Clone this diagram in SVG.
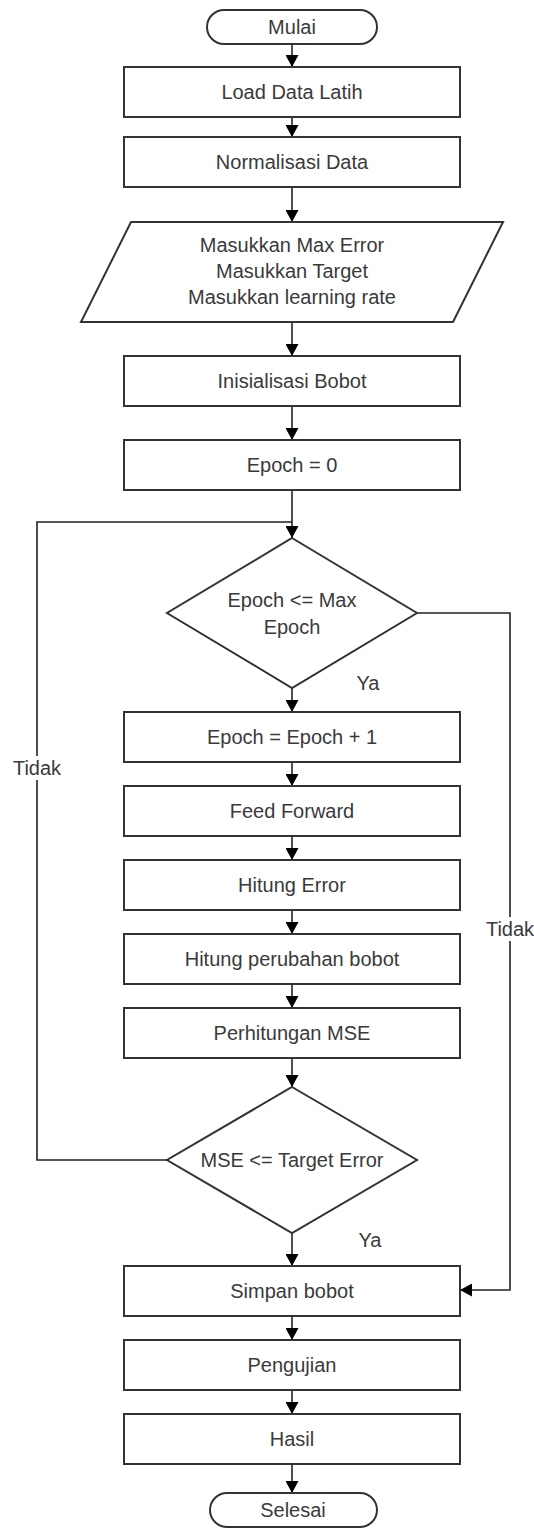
<svg xmlns="http://www.w3.org/2000/svg" width="534" height="1530" viewBox="0 0 534 1530">
<defs>
<marker id="ah" markerUnits="userSpaceOnUse" markerWidth="12" markerHeight="13" viewBox="0 0 12 13" refX="12" refY="6.5" orient="auto">
<path d="M0,0 L12,6.5 L0,13 Z" fill="#000"/>
</marker>
<style>
.s{fill:#fff;stroke:#333;stroke-width:2}
.t{font-family:"Liberation Sans",Arial,sans-serif;font-size:20px;fill:#3a3a3a;text-anchor:middle;dominant-baseline:central}
.c{fill:none;stroke:#222;stroke-width:1.6}
.a{marker-end:url(#ah)}
</style>
</defs>
<rect width="534" height="1530" fill="#fff"/>
<g id="connectors">
<line class="c a" x1="292" y1="44" x2="292" y2="67"/>
<line class="c a" x1="292" y1="117" x2="292" y2="137"/>
<line class="c a" x1="292" y1="187" x2="292" y2="222"/>
<line class="c a" x1="292" y1="322" x2="292" y2="356"/>
<line class="c a" x1="292" y1="406" x2="292" y2="440"/>
<line class="c a" x1="292" y1="490" x2="292" y2="538"/>
<polyline class="c" points="167,1160 37,1160 37,522 292,522"/>
<line class="c a" x1="292" y1="688" x2="292" y2="712"/>
<polyline class="c a" points="417,613 510,613 510,1290 460,1290"/>
<line class="c a" x1="292" y1="762" x2="292" y2="786"/>
<line class="c a" x1="292" y1="836" x2="292" y2="860"/>
<line class="c a" x1="292" y1="910" x2="292" y2="934"/>
<line class="c a" x1="292" y1="984" x2="292" y2="1008"/>
<line class="c a" x1="292" y1="1058" x2="292" y2="1087"/>
<line class="c a" x1="292" y1="1233" x2="292" y2="1266"/>
<line class="c a" x1="292" y1="1316" x2="292" y2="1340"/>
<line class="c a" x1="292" y1="1390" x2="292" y2="1414"/>
<line class="c a" x1="292" y1="1464" x2="292" y2="1493"/>
<rect x="12" y="756" width="50" height="24" fill="#fff"/>
<text class="t" x="37" y="768">Tidak</text>
<rect x="485" y="917" width="50" height="24" fill="#fff"/>
<text class="t" x="510" y="929">Tidak</text>
<text class="t" x="368" y="683">Ya</text>
<text class="t" x="370" y="1240">Ya</text>
</g>
<g id="mulai"><rect class="s" x="207" y="10" width="170" height="34" rx="17"/><text class="t" x="292" y="27">Mulai</text></g>
<g id="load"><rect class="s" x="124" y="67" width="336" height="50"/><text class="t" x="292" y="92">Load Data Latih</text></g>
<g id="normalisasi"><rect class="s" x="124" y="137" width="336" height="50"/><text class="t" x="292" y="162">Normalisasi Data</text></g>
<g id="input"><polygon class="s" points="131,222 503,222 453,322 81,322"/>
<text class="t" x="292" y="245">Masukkan Max Error</text>
<text class="t" x="292" y="271">Masukkan Target</text>
<text class="t" x="292" y="297">Masukkan learning rate</text></g>
<g id="inisialisasi"><rect class="s" x="124" y="356" width="336" height="50"/><text class="t" x="292" y="381">Inisialisasi Bobot</text></g>
<g id="epoch0"><rect class="s" x="124" y="440" width="336" height="50"/><text class="t" x="292" y="465">Epoch = 0</text></g>
<g id="cek-epoch"><polygon class="s" points="292,538 417,613 292,688 167,613"/>
<text class="t" x="292" y="600">Epoch &lt;= Max</text>
<text class="t" x="292" y="627">Epoch</text></g>
<g id="epoch-inc"><rect class="s" x="124" y="712" width="336" height="50"/><text class="t" x="292" y="737">Epoch = Epoch + 1</text></g>
<g id="feed"><rect class="s" x="124" y="786" width="336" height="50"/><text class="t" x="292" y="811">Feed Forward</text></g>
<g id="hitung-error"><rect class="s" x="124" y="860" width="336" height="50"/><text class="t" x="292" y="885">Hitung Error</text></g>
<g id="perubahan"><rect class="s" x="124" y="934" width="336" height="50"/><text class="t" x="292" y="959">Hitung perubahan bobot</text></g>
<g id="mse"><rect class="s" x="124" y="1008" width="336" height="50"/><text class="t" x="292" y="1033">Perhitungan MSE</text></g>
<g id="cek-mse"><polygon class="s" points="292,1087 417,1160 292,1233 167,1160"/>
<text class="t" x="292" y="1160">MSE &lt;= Target Error</text></g>
<g id="simpan"><rect class="s" x="124" y="1266" width="336" height="50"/><text class="t" x="292" y="1291">Simpan bobot</text></g>
<g id="pengujian"><rect class="s" x="124" y="1340" width="336" height="50"/><text class="t" x="292" y="1365">Pengujian</text></g>
<g id="hasil"><rect class="s" x="124" y="1414" width="336" height="50"/><text class="t" x="292" y="1439">Hasil</text></g>
<g id="selesai"><rect class="s" x="210" y="1493" width="167" height="34" rx="17"/><text class="t" x="293" y="1510">Selesai</text></g>
</svg>
